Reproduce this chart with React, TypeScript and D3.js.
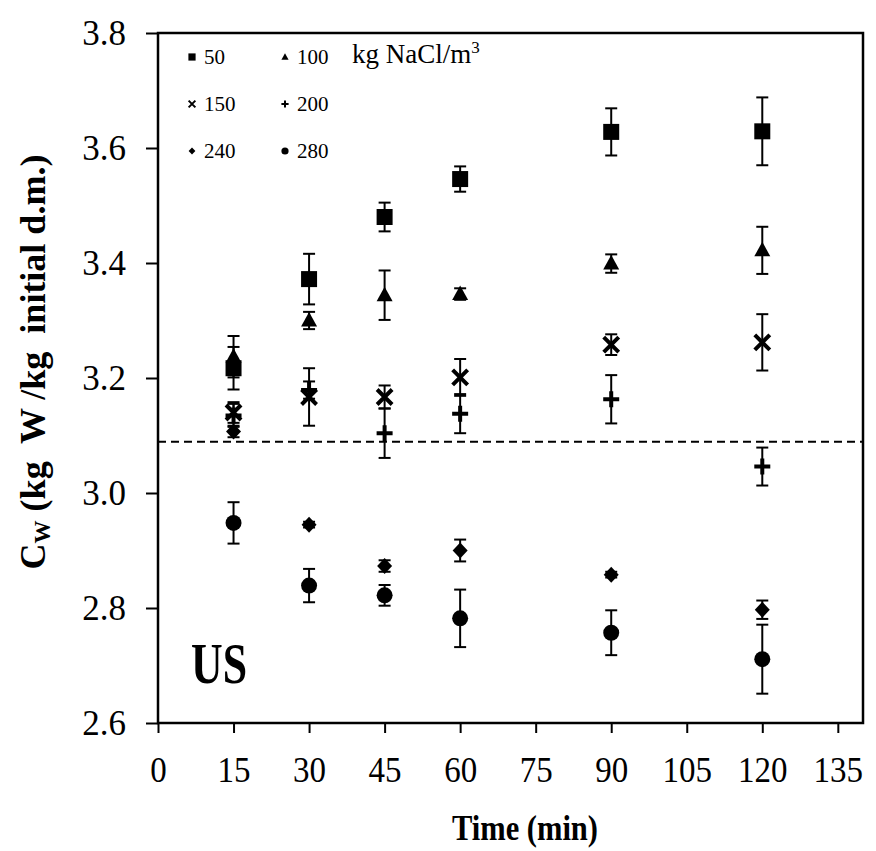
import React, { useRef, useEffect } from "react";
import * as d3 from "d3";

// sampling times (min)
const times = [15, 30, 45, 60, 90, 120];

// Cw values and error bars per NaCl concentration
const c50 = [3.217, 3.372, 3.48, 3.546, 3.628, 3.629];
const e50 = [0.037, 0.044, 0.025, 0.022, 0.041, 0.059];
const c100 = [3.237, 3.3, 3.344, 3.346, 3.399, 3.422];
const e100 = [0.036, 0.015, 0.043, 0.01, 0.016, 0.041];
const c150 = [3.14, 3.167, 3.167, 3.201, 3.258, 3.262];
const e150 = [0.018, 0.05, 0.02, 0.032, 0.018, 0.049];
const c200 = [3.135, 3.179, 3.104, 3.138, 3.163, 3.046];
const e200 = [0.02, 0.015, 0.043, 0.034, 0.042, 0.033];
const c240 = [3.107, 2.945, 2.873, 2.9, 2.858, 2.797];
const e240 = [0.01, 0.005, 0.01, 0.019, 0.005, 0.016];
const c280 = [2.948, 2.839, 2.822, 2.782, 2.757, 2.711];
const e280 = [0.036, 0.029, 0.018, 0.05, 0.039, 0.06];

const xTicks = [0, 15, 30, 45, 60, 75, 90, 105, 120, 135];
const yTicks = [2.6, 2.8, 3.0, 3.2, 3.4, 3.6, 3.8];
const refLine = 3.089;

const series = [
  { name: "50", shape: "square", vals: c50, errs: e50 },
  { name: "100", shape: "triangle", vals: c100, errs: e100 },
  { name: "150", shape: "cross", vals: c150, errs: e150 },
  { name: "200", shape: "plus", vals: c200, errs: e200 },
  { name: "240", shape: "diamond", vals: c240, errs: e240 },
  { name: "280", shape: "circle", vals: c280, errs: e280 },
];

const FONT = "'Liberation Serif', 'Times New Roman', serif";

// draws one marker at (x,y), s = scale factor
function drawMarker(g, shape, x, y, s) {
  if (shape === "square") {
    g.append("rect")
      .attr("x", x - 8 * s)
      .attr("y", y - 8 * s)
      .attr("width", 16 * s)
      .attr("height", 16 * s)
      .attr("fill", "#000");
  } else if (shape === "triangle") {
    g.append("path")
      .attr("d", `M${x},${y - 8.5 * s}L${x + 8 * s},${y + 6 * s}L${x - 8 * s},${y + 6 * s}Z`)
      .attr("fill", "#000");
  } else if (shape === "diamond") {
    g.append("path")
      .attr("d", `M${x},${y - 8 * s}L${x + 7.5 * s},${y}L${x},${y + 8 * s}L${x - 7.5 * s},${y}Z`)
      .attr("fill", "#000");
  } else if (shape === "circle") {
    g.append("circle").attr("cx", x).attr("cy", y).attr("r", 8 * s).attr("fill", "#000");
  } else if (shape === "cross") {
    const r = 7.5 * s;
    g.append("path")
      .attr("d", `M${x - r},${y - r}L${x + r},${y + r}M${x - r},${y + r}L${x + r},${y - r}`)
      .attr("stroke", "#000")
      .attr("stroke-width", s < 1 ? 2 : 4);
  } else if (shape === "plus") {
    const r = 8 * s;
    g.append("path")
      .attr("d", `M${x - r},${y}L${x + r},${y}M${x},${y - r}L${x},${y + r}`)
      .attr("stroke", "#000")
      .attr("stroke-width", s < 1 ? 2 : 4);
  }
}

const CwChart = () => {
  const svgRef = useRef(null);

  useEffect(() => {
    const svg = d3.select(svgRef.current);
    svg.selectAll("*").remove();

    const margin = { top: 33, right: 13, bottom: 128, left: 158 };
    const width = 876;
    const height = 851;

    const x = d3.scaleLinear().domain([0, 140]).range([margin.left, width - margin.right]);
    const y = d3.scaleLinear().domain([2.6, 3.8]).range([height - margin.bottom, margin.top]);

    // frame
    svg.append("rect")
      .attr("x", x(0))
      .attr("y", y(3.8))
      .attr("width", x(140) - x(0))
      .attr("height", y(2.6) - y(3.8))
      .attr("fill", "none")
      .attr("stroke", "#000")
      .attr("stroke-width", 2.5);

    // y axis
    const yAxis = svg.append("g")
      .attr("transform", `translate(${x(0)},0)`)
      .call(d3.axisLeft(y).tickValues(yTicks).tickSize(12).tickPadding(20).tickFormat(d3.format(".1f")));
    yAxis.select(".domain").remove();
    yAxis.selectAll("line").attr("stroke-width", 2);
    yAxis.selectAll("text")
      .attr("font-family", FONT)
      .attr("font-size", 35)
      .attr("fill", "#000");

    // x axis
    const xAxis = svg.append("g")
      .attr("transform", `translate(0,${y(2.6)})`)
      .call(d3.axisBottom(x).tickValues(xTicks).tickSize(10).tickPadding(24));
    xAxis.select(".domain").remove();
    xAxis.selectAll("line").attr("stroke-width", 2);
    xAxis.selectAll("text")
      .attr("font-family", FONT)
      .attr("font-size", 35)
      .attr("fill", "#000")
      .attr("textLength", (d) => String(d).length * 16.5)
      .attr("lengthAdjust", "spacingAndGlyphs");

    // dashed reference line
    svg.append("line")
      .attr("x1", x(0))
      .attr("x2", x(140))
      .attr("y1", y(refLine))
      .attr("y2", y(refLine))
      .attr("stroke", "#000")
      .attr("stroke-width", 2)
      .attr("stroke-dasharray", "8,5");

    // error bars
    const eb = svg.append("g").attr("stroke", "#000").attr("stroke-width", 2);
    series.forEach((s) => {
      times.forEach((t, i) => {
        const cx = x(t);
        const y1 = y(s.vals[i] + s.errs[i]);
        const y2 = y(s.vals[i] - s.errs[i]);
        eb.append("line").attr("x1", cx).attr("x2", cx).attr("y1", y1).attr("y2", y2);
        eb.append("line").attr("x1", cx - 6).attr("x2", cx + 6).attr("y1", y1).attr("y2", y1);
        eb.append("line").attr("x1", cx - 6).attr("x2", cx + 6).attr("y1", y2).attr("y2", y2);
      });
    });

    // markers
    const mk = svg.append("g");
    series.forEach((s) => {
      times.forEach((t, i) => drawMarker(mk, s.shape, x(t), y(s.vals[i]), 1));
    });

    // legend
    const lg = svg.append("g");
    const legendPos = [
      [192, 57], [285, 57],
      [192, 104], [285, 104],
      [192, 151], [285, 151],
    ];
    series.forEach((s, i) => {
      const [lx, ly] = legendPos[i];
      drawMarker(lg, s.shape, lx, ly, 0.45);
      lg.append("text")
        .attr("x", lx + 12)
        .attr("y", ly + 7)
        .attr("font-family", FONT)
        .attr("font-size", 21)
        .text(s.name);
    });
    const unit = lg.append("text")
      .attr("x", 352)
      .attr("y", 63)
      .attr("font-family", FONT)
      .attr("font-size", 27);
    unit.append("tspan").text("kg NaCl/m");
    unit.append("tspan").attr("font-size", 17).attr("dy", -10).text("3");

    // panel label
    svg.append("text")
      .attr("x", 191)
      .attr("y", 683)
      .attr("font-family", FONT)
      .attr("font-weight", "bold")
      .attr("font-size", 56)
      .attr("textLength", 56)
      .attr("lengthAdjust", "spacingAndGlyphs")
      .text("US");

    // axis titles
    svg.append("text")
      .attr("x", 525)
      .attr("y", 840)
      .attr("text-anchor", "middle")
      .attr("font-family", FONT)
      .attr("font-weight", "bold")
      .attr("font-size", 36)
      .attr("textLength", 146)
      .attr("lengthAdjust", "spacingAndGlyphs")
      .text("Time (min)");

    const yl = svg.append("text")
      .attr("transform", "translate(45,362) rotate(-90)")
      .attr("text-anchor", "middle")
      .attr("font-family", FONT)
      .attr("font-weight", "bold")
      .attr("font-size", 36)
      .style("white-space", "pre");
    yl.append("tspan").text("C");
    yl.append("tspan").attr("font-size", 23).attr("dy", 5).text("W");
    yl.append("tspan").attr("dy", -5).text(" (kg  W /kg  initial d.m.)");
  }, []);

  return (
    <svg
      ref={svgRef}
      width={876}
      height={851}
      style={{ position: "absolute", left: 0, top: 0, background: "white" }}
    ></svg>
  );
};

export default function App() {
  return <CwChart />;
}
